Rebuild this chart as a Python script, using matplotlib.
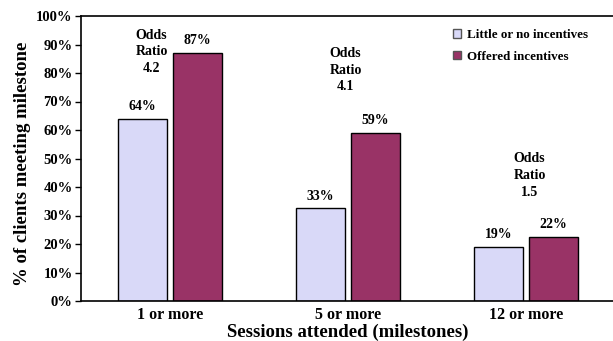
import matplotlib
matplotlib.use("Agg")
import matplotlib.pyplot as plt
from matplotlib.patches import Patch
from matplotlib.ticker import FuncFormatter
import numpy as np

categories = ["1 or more", "5 or more", "12 or more"]
little_vals = [64, 32.5, 19]
offered_vals = [87, 59, 22.5]
little_labels = ["64%", "33%", "19%"]
offered_labels = ["87%", "59%", "22%"]
odds_ratios = ["4.2", "4.1", "1.5"]
odds_heights = [87.4, 81, 44]  # vertical centre (in %) of each odds-ratio note
yticks = list(range(0, 101, 10))

light = "#D9D9F8"
dark = "#993366"

plt.rcParams['font.family'] = ['Liberation Serif', 'DejaVu Serif']
plt.rcParams['font.weight'] = 'bold'

fig = plt.figure(figsize=(6.13, 3.41), dpi=100)
ax = fig.add_axes([81/613, 1 - 301/341, (615 - 81)/613, (301 - 16)/341])

x = np.arange(len(categories))
w = 0.275
off = 0.1545
ax.bar(x - off, little_vals, w, color=light, edgecolor="black", linewidth=1.0,
       label="Little or no incentives")
ax.bar(x + off, offered_vals, w, color=dark, edgecolor="black", linewidth=1.0,
       label="Offered incentives")

for i in range(len(categories)):
    ax.text(x[i] - off, little_vals[i] + 2.0, little_labels[i], ha="center", va="bottom",
            fontsize=10, fontweight="bold")
    ax.text(x[i] + off, offered_vals[i] + 2.0, offered_labels[i], ha="center", va="bottom",
            fontsize=10, fontweight="bold")

odds_x = [x[0] - 0.103, x[1] - 0.013, x[2] + 0.02]
for i in range(len(categories)):
    ax.text(odds_x[i], odds_heights[i], "Odds\nRatio\n" + odds_ratios[i], ha="center",
            va="center", fontsize=10, fontweight="bold", linespacing=1.38)

ax.set_xlim(-0.5, 2.5)
ax.set_ylim(0, 100)
ax.set_yticks(yticks)
ax.yaxis.set_major_formatter(FuncFormatter(lambda v, p: f"{int(v)}%"))
ax.set_xticks(x)
ax.set_xticklabels(categories)
ax.tick_params(axis="x", length=0, labelsize=11.5, pad=4)
ax.tick_params(axis="y", length=4, width=1, labelsize=10.5, pad=2, direction="out")
for lab in ax.get_xticklabels() + ax.get_yticklabels():
    lab.set_fontweight("bold")

for s in ["top", "bottom", "left", "right"]:
    ax.spines[s].set_linewidth(1.2)

ax.set_ylabel("% of clients meeting milestone", fontsize=13.5, fontweight="bold")
ax.yaxis.set_label_coords(-0.094, 0.48)
ax.set_xlabel("Sessions attended (milestones)", fontsize=13.5, fontweight="bold", labelpad=1)

handles = [Patch(facecolor=light, edgecolor="#555555", linewidth=1.0),
           Patch(facecolor=dark, edgecolor="#555555", linewidth=1.0)]
leg = ax.legend(handles, ["Little or no incentives", "Offered incentives"],
                loc="upper left", bbox_to_anchor=((453 - 81) / 534, 1 - (29 - 16) / 285),
                frameon=False, fontsize=9.4, handlelength=0.6, handleheight=0.6,
                handletextpad=0.45, labelspacing=0.75, borderaxespad=0, borderpad=0)
for t in leg.get_texts():
    t.set_fontweight("bold")

fig.savefig("out.png", dpi=100)
